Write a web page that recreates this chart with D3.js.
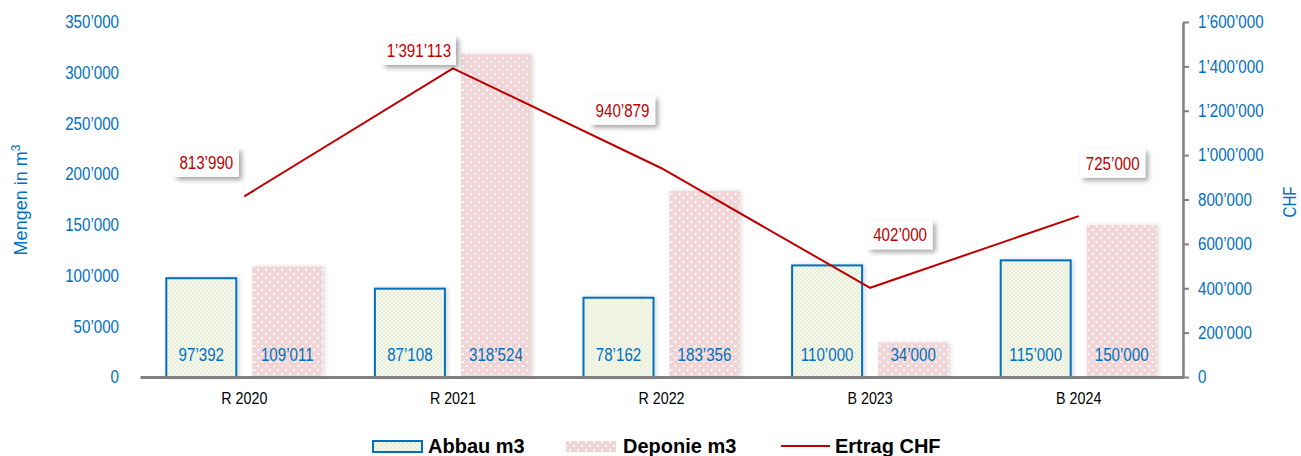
<!DOCTYPE html>
<html>
<head>
<meta charset="utf-8">
<script src="https://cdn.jsdelivr.net/npm/d3@7"></script>
<style>
  body { margin: 0; background: #fff; }
  svg { display: block; }
  text { font-family: "Liberation Sans", Arial, sans-serif; }
</style>
</head>
<body>
<svg id="chart" width="1301" height="456"></svg>
<script>
// data
var categories = ["R 2020", "R 2021", "R 2022", "B 2023", "B 2024"];
var abbau = [97392, 87108, 78162, 110000, 115000];
var deponie = [109011, 318524, 183356, 34000, 150000];
var ertrag = [813990, 1391113, 940879, 402000, 725000];
var leftTicks = [0, 50000, 100000, 150000, 200000, 250000, 300000, 350000];
var rightTicks = [0, 200000, 400000, 600000, 800000, 1000000, 1200000, 1400000, 1600000];
// where the line labels sit relative to their point (dx, dy)
var ertragLabelOffset = [[-38, -34], [-34, -18], [-39, -58], [30, -53], [34, -53]];

var blue = "#0070C0", red = "#C00000", gray = "#808080";

var svg = d3.select("#chart");
var defs = svg.append("defs");

// fills
var pA = defs.append("pattern").attr("id", "abbauFill")
	.attr("width", 4).attr("height", 4).attr("patternUnits", "userSpaceOnUse");
pA.append("rect").attr("width", 4).attr("height", 4).attr("fill", "#f7f9f0");
pA.append("rect").attr("width", 2).attr("height", 2).attr("fill", "#e6eed6");
pA.append("rect").attr("x", 2).attr("y", 2).attr("width", 2).attr("height", 2).attr("fill", "#e6eed6");

var pD = defs.append("pattern").attr("id", "deponieFill")
	.attr("width", 8).attr("height", 8).attr("patternUnits", "userSpaceOnUse");
pD.append("rect").attr("width", 8).attr("height", 8).attr("fill", "#f1d4d6");
pD.append("rect").attr("x", 1).attr("y", 1).attr("width", 2).attr("height", 2).attr("fill", "#fff");
pD.append("rect").attr("x", 5).attr("y", 5).attr("width", 2).attr("height", 2).attr("fill", "#fff");

var shadow = defs.append("filter").attr("id", "shadow")
	.attr("x", "-20%").attr("y", "-20%").attr("width", "150%").attr("height", "150%");
shadow.append("feDropShadow").attr("dx", 3).attr("dy", 3).attr("stdDeviation", 2.5)
	.attr("flood-color", "#000").attr("flood-opacity", 0.35);

var barShadow = defs.append("filter").attr("id", "barShadow")
	.attr("x", "-20%").attr("y", "-20%").attr("width", "150%").attr("height", "150%");
barShadow.append("feDropShadow").attr("dx", 2).attr("dy", 0).attr("stdDeviation", 2)
	.attr("flood-color", "#000").attr("flood-opacity", 0.15);

// scales
var x = d3.scaleBand().domain(categories).range([140, 1183]);
var x1 = d3.scaleBand().domain(["abbau", "deponie"]).range([-78, 78]).paddingInner(0.186);
var yL = d3.scaleLinear().domain([0, 350000]).range([377, 22]);
var yR = d3.scaleLinear().domain([0, 1600000]).range([377, 22]);

function fmt(v) { return d3.format(",")(v).replace(/,/g, "\u2019"); }
function cx(c) { return x(c) + x.bandwidth() / 2; }

// left axis (labels only)
var gl = svg.append("g").attr("transform", "translate(119,0)")
	.call(d3.axisLeft(yL).tickValues(leftTicks).tickFormat(fmt).tickSize(0).tickPadding(0));
gl.select(".domain").remove();
gl.selectAll("text").classed("narrow", true).attr("font-size", 18).attr("fill", blue);

// right axis
var gr = svg.append("g").attr("transform", "translate(1183,0)")
	.call(d3.axisRight(yR).tickValues(rightTicks).tickFormat(fmt).tickSize(6).tickSizeOuter(0).tickPadding(9));
gr.select(".domain").attr("stroke", gray).attr("stroke-width", 2.5);
gr.selectAll("line").attr("stroke", gray).attr("stroke-width", 2);
gr.selectAll("text").classed("narrow", true).attr("font-size", 18).attr("fill", blue);

// bars
var rows = categories.map(function(c, i){ return {cat: c, abbau: abbau[i], deponie: deponie[i]}; });

var grp = svg.append("g").selectAll("g").data(rows).enter().append("g")
	.attr("transform", function(d){ return "translate(" + cx(d.cat) + ",0)"; });

grp.append("rect")
	.attr("x", x1("deponie")).attr("width", x1.bandwidth())
	.attr("y", function(d){ return yL(d.deponie); })
	.attr("height", function(d){ return yL(0) - yL(d.deponie); })
	.attr("fill", "url(#deponieFill)")
	.attr("filter", "url(#barShadow)");

grp.append("rect")
	.attr("x", x1("abbau")).attr("width", x1.bandwidth())
	.attr("y", function(d){ return yL(d.abbau); })
	.attr("height", function(d){ return yL(0) - yL(d.abbau); })
	.attr("fill", "url(#abbauFill)")
	.attr("stroke", blue).attr("stroke-width", 2)
	.attr("filter", "url(#barShadow)");

grp.append("text").classed("narrow", true)
	.attr("x", x1("abbau") + x1.bandwidth() / 2).attr("y", 361)
	.attr("text-anchor", "middle").attr("font-size", 18).attr("fill", blue)
	.text(function(d){ return fmt(d.abbau); });

grp.append("text").classed("narrow", true)
	.attr("x", x1("deponie") + x1.bandwidth() / 2).attr("y", 361)
	.attr("text-anchor", "middle").attr("font-size", 18).attr("fill", blue)
	.text(function(d){ return fmt(d.deponie); });

// x axis
var gx = svg.append("g").attr("transform", "translate(0,377)")
	.call(d3.axisBottom(x).tickSize(0).tickPadding(15));
gx.select(".domain").attr("stroke", gray).attr("stroke-width", 3);
gx.selectAll("text").classed("narrow", true).attr("font-size", 17).attr("fill", "#000");

// line
var line = d3.line()
	.x(function(d, i){ return cx(categories[i]); })
	.y(function(d){ return yR(d); });
svg.append("path").datum(ertrag)
	.attr("d", line).attr("fill", "none")
	.attr("stroke", red).attr("stroke-width", 2);

// line labels
var lab = svg.append("g").selectAll("g").data(ertrag).enter().append("g")
	.attr("transform", function(d, i){
		return "translate(" + (cx(categories[i]) + ertragLabelOffset[i][0]) + "," + (yR(d) + ertragLabelOffset[i][1]) + ")";
	});
lab.append("text").classed("narrow", true)
	.attr("text-anchor", "middle").attr("dy", "0.36em")
	.attr("font-size", 18).attr("fill", red)
	.text(fmt);

// the reference uses a narrow face; squeeze the glyphs instead
svg.selectAll("text.narrow").each(function(){
	var len = this.getComputedTextLength();
	d3.select(this).attr("textLength", len * 0.84).attr("lengthAdjust", "spacingAndGlyphs");
});

lab.each(function(){
	var g = d3.select(this), w = g.select("text").node().getComputedTextLength() * 0.84;
	g.insert("rect", "text")
		.attr("x", -w / 2 - 10).attr("y", -14.5)
		.attr("width", w + 20).attr("height", 29)
		.attr("fill", "#fff").attr("filter", "url(#shadow)");
});

// axis titles
var t1 = svg.append("text")
	.attr("transform", "translate(27,200) rotate(-90)")
	.attr("text-anchor", "middle").attr("font-size", 18).attr("fill", blue);
t1.append("tspan").text("Mengen in m");
t1.append("tspan").attr("font-size", 12).attr("dy", -7).text("3");

svg.append("text")
	.attr("transform", "translate(1296,202) rotate(-90)")
	.attr("text-anchor", "middle").attr("font-size", 18).attr("fill", blue)
	.attr("textLength", 31).attr("lengthAdjust", "spacingAndGlyphs")
	.text("CHF");

// legend
var legend = svg.append("g")
	.attr("font-weight", "bold").attr("font-size", 20).attr("fill", "#000");
legend.append("rect").attr("x", 373).attr("y", 441).attr("width", 49).attr("height", 11)
	.attr("fill", "url(#abbauFill)").attr("stroke", blue).attr("stroke-width", 2);
legend.append("text").attr("x", 428).attr("y", 453).text("Abbau m3");
legend.append("rect").attr("x", 566).attr("y", 441).attr("width", 50).attr("height", 11)
	.attr("fill", "url(#deponieFill)");
legend.append("text").attr("x", 623).attr("y", 453).text("Deponie m3");
legend.append("line").attr("x1", 781).attr("x2", 830).attr("y1", 446).attr("y2", 446)
	.attr("stroke", red).attr("stroke-width", 2);
legend.append("text").attr("x", 835).attr("y", 453).text("Ertrag CHF");
</script>
</body>
</html>
